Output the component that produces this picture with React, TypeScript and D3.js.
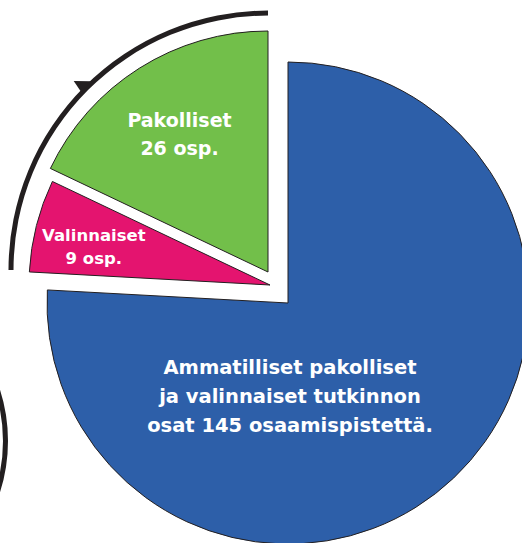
import React, { useEffect, useRef } from 'react';
import * as d3 from 'd3';

// slice sizes as drawn in the picture (angular shares), in pie order from 12 o'clock clockwise
const sliceNames = ['Ammatilliset', 'Valinnaiset', 'Pakolliset'];
const sliceValues = [110, 9, 26];
const sliceColors = ['#2d5fa9', '#e4146f', '#72bf4a'];
const sliceLabels = [
  ['Ammatilliset pakolliset', 'ja valinnaiset tutkinnon', 'osat 145 osaamispistettä.'],
  ['Valinnaiset', '9 osp.'],
  ['Pakolliset', '26 osp.'],
];

const width = 522;
const height = 543;

const App: React.FC = () => {
  const svgRef = useRef<SVGSVGElement>(null);

  useEffect(() => {
    if (!svgRef.current) return;
    const svg = d3.select(svgRef.current);
    svg.selectAll('*').remove();

    const cx = 288;
    const cy = 303;
    const radius = 241;
    // explode offsets per slice (blue stays put)
    const shift = [[0, 0], [-18, -18], [-20, -31]];
    const labelRadius = [0, 0.75, 0.68];
    const labelNudge = [[2, 0], [-1, 6], [-1, 1]];
    const fontSizes = [19.5, 16.5, 19];
    const lineGap = [29, 23, 28];

    const pie = d3.pie<number>().sort(null).value(d => d);
    const arcs = pie(sliceValues);
    const arc = d3.arc<d3.PieArcDatum<number>>().innerRadius(0).outerRadius(radius);

    const slices = svg.append('g')
      .selectAll('g')
      .data(arcs)
      .join('g')
      .attr('class', (d, i) => sliceNames[i])
      .attr('transform', (d, i) => `translate(${cx + shift[i][0]},${cy + shift[i][1]})`);

    slices.append('path')
      .attr('d', arc)
      .attr('fill', (d, i) => sliceColors[i])
      .attr('stroke', '#231f20')
      .attr('stroke-width', 1)
      .attr('stroke-linejoin', 'miter');

    slices.each(function (d, i) {
      const g = d3.select(this);
      let lx: number;
      let ly: number;
      if (i === 0) {
        lx = 0;
        ly = radius * 0.385;
      } else {
        const mid = (d.startAngle + d.endAngle) / 2;
        lx = Math.sin(mid) * radius * labelRadius[i];
        ly = -Math.cos(mid) * radius * labelRadius[i];
      }
      lx += labelNudge[i][0];
      ly += labelNudge[i][1];
      const lines = sliceLabels[i];
      const top = ly - ((lines.length - 1) * lineGap[i]) / 2 + fontSizes[i] * 0.35;
      g.append('text')
        .attr('text-anchor', 'middle')
        .attr('fill', '#ffffff')
        .attr('font-family', '"DejaVu Sans", sans-serif')
        .attr('font-weight', 'bold')
        .attr('font-size', fontSizes[i])
        .selectAll('tspan')
        .data(lines)
        .join('tspan')
        .attr('x', lx)
        .attr('y', (t, j) => top + j * lineGap[i])
        .text(t => t);
    });

    // curved arrow around the exploded slices
    const ring = d3.arc()({
      innerRadius: 254.5,
      outerRadius: 259.5,
      startAngle: -Math.PI / 2,
      endAngle: 0,
    } as any);
    const guide = svg.append('g').attr('transform', `translate(268,270)`);
    guide.append('path').attr('d', ring).attr('fill', '#231f20');

    const polar = (r: number, deg: number): [number, number] => {
      const a = (deg * Math.PI) / 180;
      return [Math.sin(a) * r, -Math.cos(a) * r];
    };
    const barb = [polar(258, -46.4), polar(271, -45.8), polar(258, -43.0)];
    guide.append('path')
      .attr('d', d3.line()(barb) + 'Z')
      .attr('fill', '#231f20');

    // partial ring at the left edge
    const edgeRing = d3.arc()({
      innerRadius: 163,
      outerRadius: 168,
      startAngle: Math.PI / 2 - 0.4,
      endAngle: Math.PI / 2 + 0.4,
    } as any);
    svg.append('path')
      .attr('transform', `translate(-160,441)`)
      .attr('d', edgeRing)
      .attr('fill', '#231f20');
  }, []);

  return (
    <svg
      ref={svgRef}
      width={width}
      height={height}
      style={{ position: 'absolute', left: 0, top: 0, background: '#ffffff' }}
    />
  );
};

export default App;
